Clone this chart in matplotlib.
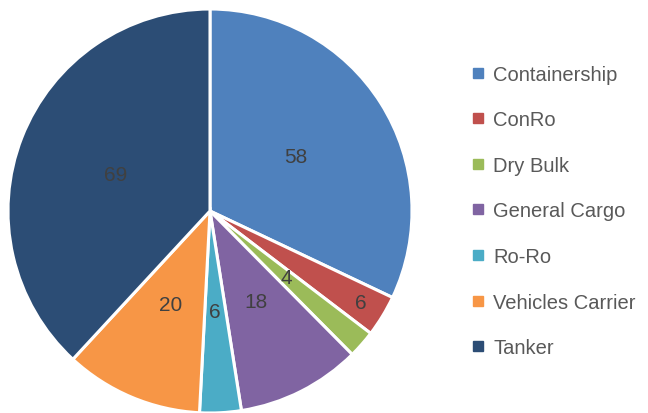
import matplotlib.pyplot as plt
from matplotlib.lines import Line2D

# ship types and counts
categories = ['Containership', 'ConRo', 'Dry Bulk', 'General Cargo', 'Ro-Ro', 'Vehicles Carrier', 'Tanker']
counts = [58, 6, 4, 18, 6, 20, 69]
colors = ['#4F81BD', '#C0504D', '#9BBB59', '#8064A2', '#4BACC6', '#F79646', '#2C4D75']

plt.rcParams['font.family'] = ['Liberation Sans', 'DejaVu Sans']

fig = plt.figure(figsize=(6.48, 4.14), dpi=100)
ax = fig.add_axes([8 / 648, 0.0, 404 / 648, 404 / 414])

wedges, texts = ax.pie(counts, colors=colors, startangle=90, counterclock=False,
                       labels=[str(c) for c in counts], labeldistance=0.5,
                       wedgeprops=dict(edgecolor='white', linewidth=2.2),
                       textprops=dict(color='#404040', fontsize=15))
for t in texts:
    t.set_horizontalalignment('center')
    t.set_verticalalignment('center')
# ConRo label sits further out
x, y = texts[1].get_position()
texts[1].set_position((x * 1.75, y * 1.75))
ax.set_xlim(-1, 1)
ax.set_ylim(-1, 1)
ax.set_aspect('equal')

handles = [Line2D([], [], marker='s', linestyle='', markersize=7, color=c) for c in colors]
leg = fig.legend(handles, categories, loc='center left', bbox_to_anchor=(0.71, 0.488),
                 frameon=False, fontsize=14.5, labelspacing=1.32, handletextpad=0.25,
                 handlelength=1.0, borderaxespad=0)
for t in leg.get_texts():
    t.set_color('#595959')

fig.savefig('out.png', dpi=100)
